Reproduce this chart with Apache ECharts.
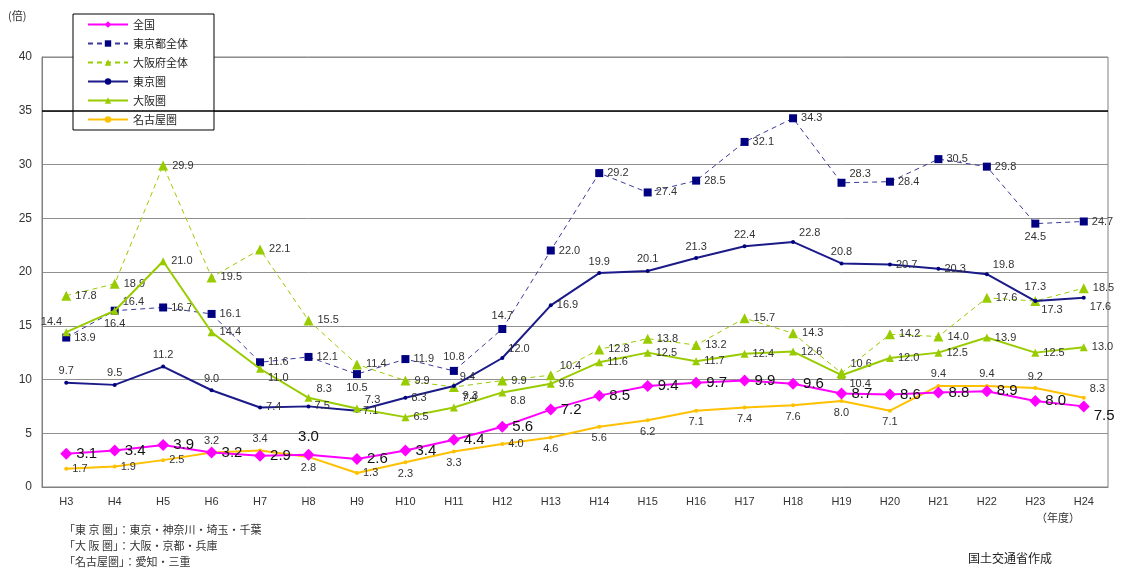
<!DOCTYPE html>
<html>
<head>
<meta charset="utf-8">
<script src="https://cdn.jsdelivr.net/npm/echarts@6/dist/echarts.min.js"></script>
<style>html,body{margin:0;padding:0;background:#fff}#c{width:1126px;height:571px}</style>
</head>
<body>
<div id="c"></div>
<script>
const categories = ['H3','H4','H5','H6','H7','H8','H9','H10','H11','H12','H13','H14','H15','H16','H17','H18','H19','H20','H21','H22','H23','H24'];
const zenkoku   = [3.1,3.4,3.9,3.2,2.9,3.0,2.6,3.4,4.4,5.6,7.2,8.5,9.4,9.7,9.9,9.6,8.7,8.6,8.8,8.9,8.0,7.5];
const tokyoTo   = [13.9,16.4,16.7,16.1,11.6,12.1,10.5,11.9,10.8,14.7,22.0,29.2,27.4,28.5,32.1,34.3,28.3,28.4,30.5,29.8,24.5,24.7];
const osakaFu   = [17.8,18.9,29.9,19.5,22.1,15.5,11.4,9.9,9.3,9.9,10.4,12.8,13.8,13.2,15.7,14.3,10.6,14.2,14.0,17.6,17.3,18.5];
const tokyoKen  = [9.7,9.5,11.2,9.0,7.4,7.5,7.1,8.3,9.4,12.0,16.9,19.9,20.1,21.3,22.4,22.8,20.8,20.7,20.3,19.8,17.3,17.6];
const osakaKen  = [14.4,16.4,21.0,14.4,11.0,8.3,7.3,6.5,7.4,8.8,9.6,11.6,12.5,11.7,12.4,12.6,10.4,12.0,12.5,13.9,12.5,13.0];
const nagoyaKen = [1.7,1.9,2.5,3.2,3.4,2.8,1.3,2.3,3.3,4.0,4.6,5.6,6.2,7.1,7.4,7.6,8.0,7.1,9.4,9.4,9.2,8.3];
const yTicks = [0,5,10,15,20,25,30,35,40];

// label placement codes (style only)
const posZenkoku = ['r','r','r','r','r','t','r','r','r','r','r','r','r','r','r','r','r','r','r','r','r','br'];
const posTokyoTo = ['r','tr','r','r','r','r','b','r','t','t','r','r','r','r','r','r','tr','r','r','r','b','r'];
const posOsakaFu = ['r','r','r','r','r','r','r','r','br','r','tr','r','r','r','r','r','tr','r','r','r','t','r'];
const posTokyoKen= ['t','t','t','t','r','r','r','r','tr','tr','r','t','t','t','t','tr','t','r','r','tr','br','br'];
const posOsakaKen= ['tl','b','r','r','br','tr','tr','r','tr','br','r','r','r','r','r','r','br','r','r','r','r','r'];
const posNagoya  = ['r','r','r','t','t','b','r','b','b','r','b','b','b','b','b','b','b','b','t','t','t','tr'];

function lbl(code, big){
  const base = {show:true, color: big ? '#111' : '#333', fontSize: big ? 15 : 11,
    fontFamily:'Liberation Sans, Arial, sans-serif', distance: 4,
    formatter: p => Number(p.value).toFixed(1)};
  switch(code){
    case 'r': return Object.assign(base,{position:'right'});
    case 't': return Object.assign(base,{position:'top'});
    case 'b': return Object.assign(base,{position:'bottom'});
    case 'tr': return Object.assign(base,{position:'right', offset:[0,-9]});
    case 'br': return Object.assign(base,{position:'right', offset:[0,9]});
    case 'tl': return Object.assign(base,{position:'left', offset:[4,-10]});
  }
  return base;
}
function mk(vals, pos, big){ return vals.map((v,i)=>({value:v, label: lbl(pos[i], big)})); }

const chart = echarts.init(document.getElementById('c'));
const jp = 'Noto Sans CJK JP, sans-serif';
chart.setOption({
  animation:false,
  backgroundColor:'#fff',
  grid:{left:42,right:18,top:57,bottom:84,show:true,borderColor:'#808080',borderWidth:1},
  legend:{
    orient:'vertical', left:73, top:14, itemWidth:40, itemHeight:8, itemGap:8, itemTextGap:3,
    padding:[5,26,5,14], borderColor:'#000', borderWidth:1, backgroundColor:'#fff',
    textStyle:{fontSize:11, color:'#222', fontFamily:jp},
    data:['全国','東京都全体','大阪府全体','東京圏','大阪圏','名古屋圏']
  },
  xAxis:{type:'category', data:categories, boundaryGap:true,
    axisLine:{lineStyle:{color:'#808080'}},
    axisTick:{inside:true,length:4,lineStyle:{color:'#808080'}},
    axisLabel:{color:'#333',fontSize:11,margin:9,fontFamily:'Liberation Sans, Arial, sans-serif'}},
  yAxis:{type:'value', min:yTicks[0], max:yTicks[yTicks.length-1], interval:yTicks[1]-yTicks[0],
    axisLine:{show:true,lineStyle:{color:'#808080'}}, axisTick:{show:false},
    splitLine:{lineStyle:{color:'#909090'}},
    axisLabel:{color:'#333',fontSize:12,margin:10,fontFamily:'Liberation Sans, Arial, sans-serif'}},
  graphic:[
    {type:'text', left:8, top:10, style:{text:'(倍)', fontSize:11, fill:'#333', fontFamily:jp}},
    {type:'text', left:1036, top:512, style:{text:'（年度）', fontSize:11, fill:'#333', fontFamily:jp}},
    {type:'text', left:64, top:524, style:{text:'「東 京 圏」：東京・神奈川・埼玉・千葉', fontSize:11, fill:'#333', fontFamily:jp}},
    {type:'text', left:64, top:540, style:{text:'「大 阪 圏」：大阪・京都・兵庫', fontSize:11, fill:'#333', fontFamily:jp}},
    {type:'text', left:64, top:556, style:{text:'「名古屋圏」：愛知・三重', fontSize:11, fill:'#333', fontFamily:jp}},
    {type:'text', left:968, top:552, style:{text:'国土交通省作成', fontSize:12, fill:'#222', fontFamily:jp}}
  ],
  series:[
    {name:'東京都全体', type:'line', data:mk(tokyoTo,posTokyoTo,false), symbol:'rect', symbolSize:8,
      itemStyle:{color:'#000080'}, lineStyle:{color:'#3a3a9a',width:1,type:[5,4]}, z:3,
      markLine:{silent:true, symbol:'none', label:{show:false}, lineStyle:{color:'#000',width:1.5,type:'solid'}, data:[{yAxis:35}]}},
    {name:'大阪府全体', type:'line', data:mk(osakaFu,posOsakaFu,false), symbol:'triangle', symbolSize:10,
      itemStyle:{color:'#99CC00'}, lineStyle:{color:'#99CC00',width:1,type:[5,4]}, z:3},
    {name:'東京圏', type:'line', data:mk(tokyoKen,posTokyoKen,false), symbol:'circle', symbolSize:4,
      itemStyle:{color:'#000080'}, lineStyle:{color:'#1a1a88',width:2}, z:4},
    {name:'大阪圏', type:'line', data:mk(osakaKen,posOsakaKen,false), symbol:'triangle', symbolSize:8,
      itemStyle:{color:'#99CC00'}, lineStyle:{color:'#99CC00',width:2}, z:4},
    {name:'名古屋圏', type:'line', data:mk(nagoyaKen,posNagoya,false), symbol:'circle', symbolSize:4,
      itemStyle:{color:'#FFC000'}, lineStyle:{color:'#FFC000',width:2}, z:4},
    {name:'全国', type:'line', data:mk(zenkoku,posZenkoku,true), symbol:'diamond', symbolSize:12,
      itemStyle:{color:'#FF00FF'}, lineStyle:{color:'#FF00FF',width:2}, z:5}
  ]
});
</script>
</body>
</html>
